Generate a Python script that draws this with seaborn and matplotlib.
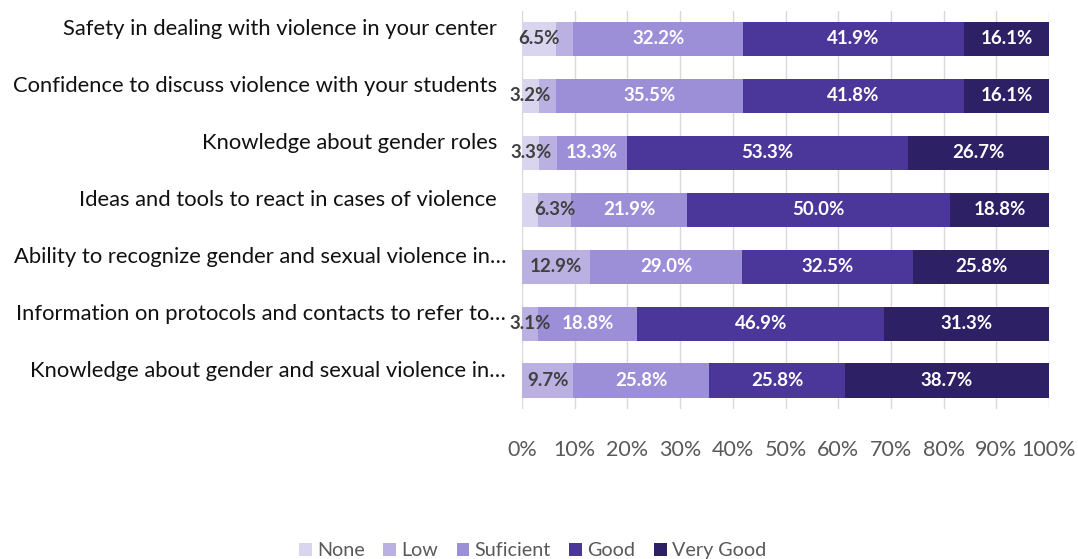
import numpy as np
import pandas as pd
import seaborn as sns
import matplotlib
matplotlib.use("Agg")
import matplotlib.pyplot as plt
from matplotlib.patches import Patch
from matplotlib.transforms import ScaledTranslation

# ---- data ----
categories = [
    "Safety in dealing with violence in your center",
    "Confidence to discuss violence with your students",
    "Knowledge about gender roles",
    "Ideas and tools to react in cases of violence",
    "Ability to recognize gender and sexual violence in\u2026",
    "Information on protocols and contacts to refer to\u2026",
    "Knowledge about gender and sexual violence in\u2026",
]
levels = ["None", "Low", "Suficient", "Good", "Very Good"]
none_vals = [6.5, 3.2, 3.3, 3.1, 0.0, 0.0, 0.0]
low_vals = [3.2, 3.2, 3.3, 6.3, 12.9, 3.1, 9.7]
suf_vals = [32.2, 35.5, 13.3, 21.9, 29.0, 18.8, 25.8]
good_vals = [41.9, 41.8, 53.3, 50.0, 32.5, 46.9, 25.8]
vgood_vals = [16.1, 16.1, 26.7, 18.8, 25.8, 31.3, 38.7]
# which data labels are visible in the original chart
none_shown = [True, True, True, False, False, False, False]
low_shown = [False, False, False, True, True, True, True]
tick_values = list(range(0, 101, 10))
tick_labels = [f"{v}%" for v in tick_values]

colors = ["#DAD5EE", "#BAB1E2", "#9D8ED8", "#4B379A", "#2E2065"]
label_colors = ["#404040", "#404040", "white", "white", "white"]

df = pd.DataFrame({"category": categories, "None": none_vals, "Low": low_vals,
                   "Suficient": suf_vals, "Good": good_vals, "Very Good": vgood_vals})
vals = df[levels].to_numpy(dtype=float)
share = vals / vals.sum(axis=1, keepdims=True) * 100.0  # 100% stacked
cum = np.cumsum(share, axis=1)
shown = np.column_stack([none_shown, low_shown] + [[True] * len(categories)] * 3)

sns.set_theme(style="white")
plt.rcParams["font.family"] = ["Lato", "DejaVu Sans"]

fig = plt.figure(figsize=(10.78, 5.59), dpi=100)
ax = fig.add_axes([522 / 1078, 1 - 409 / 559, (1049 - 522) / 1078, (409 - 10.5) / 559])

# draw cumulative bars from the largest to the smallest so each segment shows
for k in range(len(levels) - 1, -1, -1):
    plot_df = pd.DataFrame({"category": categories, "x": cum[:, k]})
    sns.barplot(data=plot_df, x="x", y="category", order=categories,
                color=colors[k], saturation=1, width=0.6, ax=ax,
                edgecolor="none", linewidth=0, zorder=2)

# data labels
for i in range(len(categories)):
    for k in range(len(levels)):
        if share[i, k] <= 0 or not shown[i, k]:
            continue
        xc = cum[i, k] - share[i, k] / 2
        ax.text(xc, i, f"{vals[i, k]:.1f}%", ha="center", va="center",
                fontsize=13.5, fontweight="bold", color=label_colors[k], zorder=5)

ax.set_xlim(0, 100)
ax.set_ylim(len(categories) - 0.5, -0.5)
ax.set_xticks(tick_values)
ax.set_xticklabels(tick_labels)
ax.set_xlabel("")
ax.set_ylabel("")
for s in ax.spines.values():
    s.set_visible(False)
ax.grid(axis="x", color="#D9D9D9", linewidth=1, zorder=0)
ax.grid(axis="y", visible=False)
ax.set_axisbelow(True)
ax.tick_params(axis="x", length=0, pad=22, labelsize=15.5, labelcolor="#595959")
ax.tick_params(axis="y", length=0, pad=18, labelsize=15.8, labelcolor="#111111")

for lab in ax.get_yticklabels():
    dx = 9 / 100 if lab.get_text().endswith("\u2026") else 0
    lab.set_transform(lab.get_transform() + ScaledTranslation(dx, 12 / 100, fig.dpi_scale_trans))

handles = [Patch(facecolor=c, edgecolor="none") for c in colors]
fig.legend(handles, levels, loc="lower center", bbox_to_anchor=(0.494, -0.032),
           ncol=5, frameon=False, fontsize=14.2, handlelength=0.65, handleheight=0.65,
           handletextpad=0.25, columnspacing=0.95, labelcolor="#595959")

fig.savefig("out.png", dpi=100, facecolor="white")
